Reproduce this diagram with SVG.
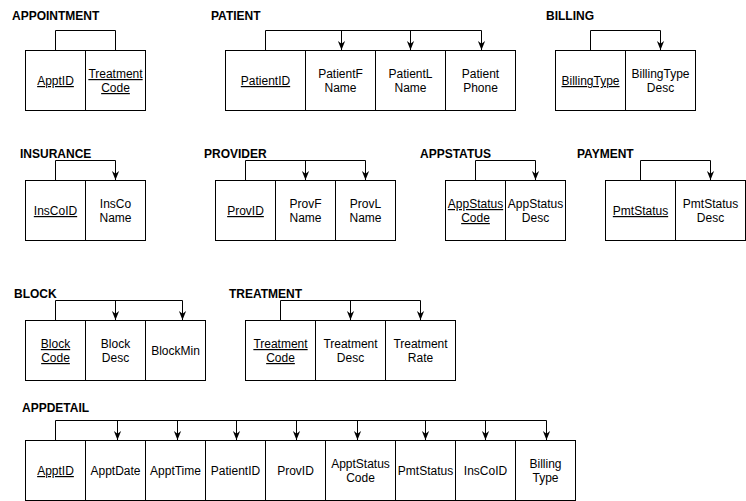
<svg xmlns="http://www.w3.org/2000/svg" width="746" height="501" viewBox="0 0 746 501">
<defs>
<style>
.t{font-family:"Liberation Sans",Arial,sans-serif;font-size:12px;font-weight:bold;fill:#000}
.c{fill:#fff;stroke:#000;stroke-width:1}
.x{font-family:"Liberation Sans",Arial,sans-serif;font-size:12px;fill:#000;text-anchor:middle}
.k{text-decoration:underline}
.l{fill:none;stroke:#000;stroke-width:1}
.a{fill:none;stroke:#000;stroke-width:1;marker-end:url(#arr)}
</style>
<marker id="arr" viewBox="0 0 10 10" refX="10" refY="5" markerWidth="9" markerHeight="9" markerUnits="userSpaceOnUse" orient="auto">
<path d="M0,1 L10,5 L0,9 L3,5 z" fill="#000"/>
</marker>
</defs>
<rect width="746" height="501" fill="#fff"/>

<g id="connectors">
<path class="l" d="M55.5,50 V30.5 H115.5 V50"/>
<path class="l" d="M265.5,50 V30.5 H481.5"/>
<path class="a" d="M341.5,30.5 V50"/>
<path class="a" d="M410.5,30.5 V50"/>
<path class="a" d="M481.5,30.5 V50"/>
<path class="l" d="M590.5,50 V30.5 H660.5"/>
<path class="a" d="M660.5,30.5 V50"/>
<path class="l" d="M55.5,180 V160.5 H115.5"/>
<path class="a" d="M115.5,160.5 V180"/>
<path class="l" d="M245.5,180 V160.5 H365.5"/>
<path class="a" d="M305.5,160.5 V180"/>
<path class="a" d="M365.5,160.5 V180"/>
<path class="l" d="M475.5,180 V160.5 H535.5"/>
<path class="a" d="M535.5,160.5 V180"/>
<path class="l" d="M640.5,180 V160.5 H710.5"/>
<path class="a" d="M710.5,160.5 V180"/>
<path class="l" d="M55.5,320 V300.5 H182.5"/>
<path class="a" d="M115.5,300.5 V320"/>
<path class="a" d="M182.5,300.5 V320"/>
<path class="l" d="M280.5,320 V300.5 H420.5"/>
<path class="a" d="M350.5,300.5 V320"/>
<path class="a" d="M420.5,300.5 V320"/>
<path class="l" d="M55.5,440 V420.5 H546.5"/>
<path class="a" d="M117.5,420.5 V440"/>
<path class="a" d="M177.5,420.5 V440"/>
<path class="a" d="M236.5,420.5 V440"/>
<path class="a" d="M296.5,420.5 V440"/>
<path class="a" d="M357.5,420.5 V440"/>
<path class="a" d="M425.5,420.5 V440"/>
<path class="a" d="M485.5,420.5 V440"/>
<path class="a" d="M546.5,420.5 V440"/>
</g>

<g id="appointment">
<text class="t" x="12" y="20">APPOINTMENT</text>
<rect class="c" x="25.5" y="50.5" width="60" height="60"/>
<rect class="c" x="85.5" y="50.5" width="60" height="60"/>
<text class="x k" x="55.5" y="85">ApptID</text>
<text class="x k" x="115.5" y="78">Treatment</text>
<text class="x k" x="115.5" y="92">Code</text>
</g>

<g id="patient">
<text class="t" x="211" y="20">PATIENT</text>
<rect class="c" x="225.5" y="50.5" width="80" height="60"/>
<rect class="c" x="305.5" y="50.5" width="70" height="60"/>
<rect class="c" x="375.5" y="50.5" width="70" height="60"/>
<rect class="c" x="445.5" y="50.5" width="70" height="60"/>
<text class="x k" x="265.5" y="85">PatientID</text>
<text class="x" x="340.5" y="78">PatientF</text>
<text class="x" x="340.5" y="92">Name</text>
<text class="x" x="410.5" y="78">PatientL</text>
<text class="x" x="410.5" y="92">Name</text>
<text class="x" x="480.5" y="78">Patient</text>
<text class="x" x="480.5" y="92">Phone</text>
</g>

<g id="billing">
<text class="t" x="546" y="20">BILLING</text>
<rect class="c" x="555.5" y="50.5" width="70" height="60"/>
<rect class="c" x="625.5" y="50.5" width="70" height="60"/>
<text class="x k" x="590.5" y="85">BillingType</text>
<text class="x" x="660.5" y="78">BillingType</text>
<text class="x" x="660.5" y="92">Desc</text>
</g>

<g id="insurance">
<text class="t" x="20" y="158">INSURANCE</text>
<rect class="c" x="25.5" y="180.5" width="60" height="60"/>
<rect class="c" x="85.5" y="180.5" width="60" height="60"/>
<text class="x k" x="55.5" y="215">InsCoID</text>
<text class="x" x="115.5" y="208">InsCo</text>
<text class="x" x="115.5" y="222">Name</text>
</g>

<g id="provider">
<text class="t" x="204" y="158">PROVIDER</text>
<rect class="c" x="215.5" y="180.5" width="60" height="60"/>
<rect class="c" x="275.5" y="180.5" width="60" height="60"/>
<rect class="c" x="335.5" y="180.5" width="60" height="60"/>
<text class="x k" x="245.5" y="215">ProvID</text>
<text class="x" x="305.5" y="208">ProvF</text>
<text class="x" x="305.5" y="222">Name</text>
<text class="x" x="365.5" y="208">ProvL</text>
<text class="x" x="365.5" y="222">Name</text>
</g>

<g id="appstatus">
<text class="t" x="420" y="158">APPSTATUS</text>
<rect class="c" x="445.5" y="180.5" width="60" height="60"/>
<rect class="c" x="505.5" y="180.5" width="60" height="60"/>
<text class="x k" x="475.5" y="208">AppStatus</text>
<text class="x k" x="475.5" y="222">Code</text>
<text class="x" x="535.5" y="208">AppStatus</text>
<text class="x" x="535.5" y="222">Desc</text>
</g>

<g id="payment">
<text class="t" x="577" y="158">PAYMENT</text>
<rect class="c" x="605.5" y="180.5" width="70" height="60"/>
<rect class="c" x="675.5" y="180.5" width="70" height="60"/>
<text class="x k" x="640.5" y="215">PmtStatus</text>
<text class="x" x="710.5" y="208">PmtStatus</text>
<text class="x" x="710.5" y="222">Desc</text>
</g>

<g id="block">
<text class="t" x="14" y="298">BLOCK</text>
<rect class="c" x="25.5" y="320.5" width="60" height="60"/>
<rect class="c" x="85.5" y="320.5" width="60" height="60"/>
<rect class="c" x="145.5" y="320.5" width="60" height="60"/>
<text class="x k" x="55.5" y="348">Block</text>
<text class="x k" x="55.5" y="362">Code</text>
<text class="x" x="115.5" y="348">Block</text>
<text class="x" x="115.5" y="362">Desc</text>
<text class="x" x="175.5" y="355">BlockMin</text>
</g>

<g id="treatment">
<text class="t" x="229" y="298">TREATMENT</text>
<rect class="c" x="245.5" y="320.5" width="70" height="60"/>
<rect class="c" x="315.5" y="320.5" width="70" height="60"/>
<rect class="c" x="385.5" y="320.5" width="70" height="60"/>
<text class="x k" x="280.5" y="348">Treatment</text>
<text class="x k" x="280.5" y="362">Code</text>
<text class="x" x="350.5" y="348">Treatment</text>
<text class="x" x="350.5" y="362">Desc</text>
<text class="x" x="420.5" y="348">Treatment</text>
<text class="x" x="420.5" y="362">Rate</text>
</g>

<g id="appdetail">
<text class="t" x="22" y="412">APPDETAIL</text>
<rect class="c" x="25.5" y="440.5" width="60" height="60"/>
<rect class="c" x="85.5" y="440.5" width="60" height="60"/>
<rect class="c" x="145.5" y="440.5" width="60" height="60"/>
<rect class="c" x="205.5" y="440.5" width="60" height="60"/>
<rect class="c" x="265.5" y="440.5" width="60" height="60"/>
<rect class="c" x="325.5" y="440.5" width="70" height="60"/>
<rect class="c" x="395.5" y="440.5" width="60" height="60"/>
<rect class="c" x="455.5" y="440.5" width="60" height="60"/>
<rect class="c" x="515.5" y="440.5" width="60" height="60"/>
<text class="x k" x="55.5" y="475">ApptID</text>
<text class="x" x="115.5" y="475">ApptDate</text>
<text class="x" x="175.5" y="475">ApptTime</text>
<text class="x" x="235.5" y="475">PatientID</text>
<text class="x" x="295.5" y="475">ProvID</text>
<text class="x" x="360.5" y="468">ApptStatus</text>
<text class="x" x="360.5" y="482">Code</text>
<text class="x" x="425.5" y="475">PmtStatus</text>
<text class="x" x="485.5" y="475">InsCoID</text>
<text class="x" x="545.5" y="468">Billing</text>
<text class="x" x="545.5" y="482">Type</text>
</g>
</svg>
